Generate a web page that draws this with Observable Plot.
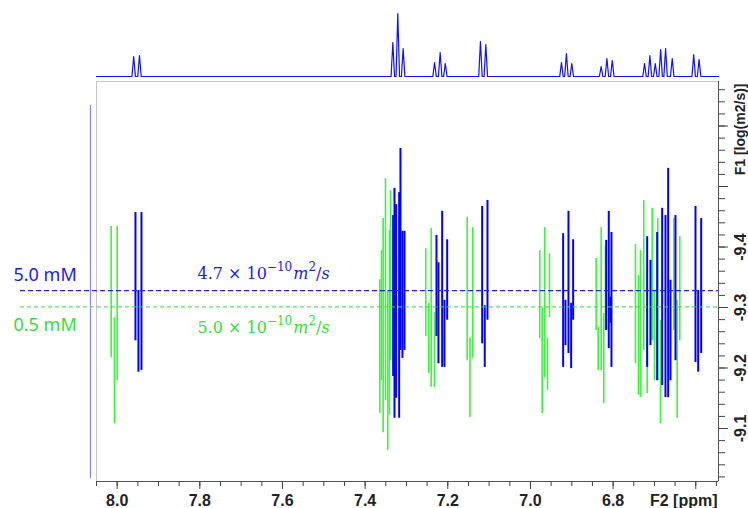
<!DOCTYPE html>
<html><head><meta charset="utf-8">
<script src="https://cdn.jsdelivr.net/npm/d3@7"></script>
<script src="https://cdn.jsdelivr.net/npm/@observablehq/plot@0.6"></script>
<style>
html,body{margin:0;padding:0;background:#fff;}
#wrap{position:relative;width:748px;height:508px;overflow:hidden;background:#fff;}
#wrap svg{position:absolute;left:0;top:0;}
</style></head><body><div id="wrap"></div>
<script>
// ---------- DATA ----------
// F2 (1H) projection peaks: chemical shift (ppm) and relative intensity
const projPpm = [7.960, 7.946, 7.333, 7.321, 7.308, 7.232, 7.2185, 7.206, 7.121, 7.108,
                 6.925, 6.913, 6.900, 6.829, 6.815, 6.802, 6.724, 6.711, 6.698, 6.685,
                 6.673, 6.657, 6.605, 6.592];
const projInt = [20, 21, 34, 63, 28, 14, 24, 13, 35, 32,
                 14, 23, 13, 10, 18, 16, 13, 21, 13, 27,
                 28, 18, 22, 17];

// DOSY contour spikes: [ppm, log D top, log D bottom]
const blueSpikes = [ // 5.0 mM
  [7.9557, -9.457, -9.245], [7.9412, -9.457, -9.196], [7.9485, -9.328, -9.193],
  [7.3322, -9.452, -9.186], [7.3290, -9.497, -9.117], [7.3250, -9.470, -9.150],
  [7.3177, -9.490, -9.117], [7.3145, -9.563, -9.229], [7.3097, -9.426, -9.216], [7.3048, -9.426, -9.229],
  [7.2274, -9.419, -9.252], [7.2226, -9.374, -9.207], [7.2136, -9.459, -9.201],
  [7.2081, -9.312, -9.201], [7.2015, -9.412, -9.279],
  [7.1168, -9.467, -9.240], [7.1106, -9.303, -9.201], [7.1040, -9.477, -9.279],
  [6.9209, -9.422, -9.201], [6.9153, -9.312, -9.237], [6.9080, -9.459, -9.224],
  [6.9015, -9.307, -9.199], [6.8967, -9.412, -9.279],
  [6.8168, -9.411, -9.262], [6.8105, -9.459, -9.232], [6.8064, -9.317, -9.274], [6.8040, -9.424, -9.201],
  [6.7176, -9.417, -9.201], [6.7096, -9.378, -9.237], [6.6934, -9.424, -9.179],
  [6.6813, -9.464, -9.171], [6.6733, -9.452, -9.151], [6.6668, -9.530, -9.151],
  [6.6612, -9.345, -9.179], [6.6491, -9.452, -9.212],
  [6.6007, -9.467, -9.209], [6.5942, -9.328, -9.193], [6.5869, -9.447, -9.224]
];
const greenSpikes = [ // 0.5 mM
  [8.0145, -9.434, -9.217], [8.0065, -9.283, -9.108], [8.0000, -9.434, -9.179],
  [7.3646, -9.346, -9.125], [7.3605, -9.394, -9.179], [7.3564, -9.447, -9.093],
  [7.3508, -9.513, -9.146], [7.3453, -9.328, -9.064], [7.3411, -9.427, -9.122], [7.3387, -9.493, -9.212],
  [7.2533, -9.397, -9.252], [7.2461, -9.307, -9.191], [7.2402, -9.431, -9.168], [7.2323, -9.292, -9.168],
  [7.1531, -9.449, -9.212], [7.1464, -9.250, -9.118], [7.1396, -9.432, -9.216],
  [6.9775, -9.394, -9.249], [6.9717, -9.300, -9.125], [6.9654, -9.432, -9.184],
  [6.9588, -9.249, -9.163], [6.9540, -9.389, -9.283],
  [6.8410, -9.381, -9.262], [6.8362, -9.267, -9.196], [6.8289, -9.432, -9.196],
  [6.8226, -9.290, -9.141], [6.8185, -9.402, -9.262],
  [6.7459, -9.404, -9.207], [6.7387, -9.353, -9.155], [6.7338, -9.394, -9.151],
  [6.7258, -9.477, -9.229], [6.7176, -9.361, -9.158], [6.7055, -9.464, -9.245],
  [6.6999, -9.328, -9.179], [6.6920, -9.447, -9.179], [6.6854, -9.279, -9.108],
  [6.6532, -9.447, -9.262], [6.6450, -9.312, -9.117], [6.6387, -9.417, -9.245]
];

// F1 projection (flat trace): ppm position and log D extent
const f1ProjPpm = [8.0646];
const f1ProjRange = [-9.634, -9.017];

// Diffusion coefficients (m^2/s) and labels
const concLabels = ["5.0 mM", "0.5 mM"];
const diffMantissa = ["4.7", "5.0"];
const diffExponent = [-10, -10];
const diffD = [4.7e-10, 5.0e-10];

// Axis ticks
const xDomain = [8.05, 6.545];
const yDomain = [-9.0124, -9.6736];
const xMajor = [8.0, 7.8, 7.6, 7.4, 7.2, 7.0, 6.8, 6.6];
const xLabelled = [8.0, 7.8, 7.6, 7.4, 7.2, 7.0, 6.8];
const yMajor = [-9.6, -9.5, -9.4, -9.3, -9.2, -9.1];
const yLabelled = [-9.4, -9.3, -9.2, -9.1];
const xTitle = "F2 [ppm]";
const yTitle = "F1 [log(m2/s)]";

// ---------- BUILD ----------
const xMinor = d3.range(0, 31).map(i => +(8.05 - i * 0.05).toFixed(2));
const yMinor = d3.range(0, 33).map(i => +(-9.66 + i * 0.02).toFixed(2));
const logD = diffD.map(d => Math.log10(d));
const BLUE = "#0000ff", GREEN = "#3cf53c";
const BLUE_T = "#1c1ce6", GREEN_T = "#36e036";
const AXF = "'Liberation Sans', Arial, sans-serif";

const wrap = document.getElementById("wrap");

const mainSvg = Plot.plot({
  width: 748, height: 508,
  marginLeft: 96, marginRight: 30, marginTop: 81, marginBottom: 27,
  x: {domain: xDomain, axis: null},
  y: {domain: yDomain, axis: null},
  style: {background: "transparent", fontFamily: AXF},
  marks: [
    Plot.frame({stroke: "#c6c6c6", strokeWidth: 1}),
    Plot.ruleX(f1ProjPpm, {y1: f1ProjRange[0], y2: f1ProjRange[1], stroke: "#7a7aff", strokeWidth: 1}),
    Plot.ruleX(greenSpikes, {x: d => d[0], y1: d => d[1], y2: d => d[2], stroke: GREEN, strokeWidth: 1.6}),
    Plot.ruleX(blueSpikes, {x: d => d[0], y1: d => d[1], y2: d => d[2], stroke: BLUE, strokeWidth: 2}),
    Plot.ruleY([logD[1]], {x1: 8.234, x2: xDomain[1], stroke: "#3ad83a", strokeWidth: 1, strokeDasharray: "4,3"}),
    Plot.ruleY([logD[0]], {x1: 8.234, x2: xDomain[1], stroke: "#2020ff", strokeWidth: 1.4, strokeDasharray: "5,3"}),
    // concentration labels
    Plot.text([concLabels[0]], {frameAnchor: "left", y: logD[0], dx: -83, dy: -10, textAnchor: "start", lineAnchor: "bottom",
      fill: BLUE_T, fontSize: 18, fontFamily: "'Noto Sans', 'Open Sans', sans-serif"}),
    Plot.text([concLabels[1]], {frameAnchor: "left", y: logD[1], dx: -83, dy: 24, textAnchor: "start", lineAnchor: "bottom",
      fill: GREEN_T, fontSize: 18, fontFamily: "'Noto Sans', 'Open Sans', sans-serif"}),
    // diffusion coefficient labels (rich-formatted afterwards)
    Plot.text([0], {frameAnchor: "left", y: logD[0], dx: 101, dy: -12, textAnchor: "start", lineAnchor: "bottom",
      text: () => `${diffMantissa[0]} × 10${diffExponent[0]} m2/s`, fill: BLUE_T, fontSize: 16,
      fontFamily: "'DejaVu Serif', serif", className: "dlab0"}),
    Plot.text([1], {frameAnchor: "left", y: logD[1], dx: 101, dy: 26, textAnchor: "start", lineAnchor: "bottom",
      text: () => `${diffMantissa[1]} × 10${diffExponent[1]} m2/s`, fill: GREEN_T, fontSize: 16,
      fontFamily: "'DejaVu Serif', serif", className: "dlab1"}),
    // axis lines
    Plot.ruleY([yDomain[0]], {stroke: "#555", strokeWidth: 1}),
    Plot.ruleX([xDomain[1]], {stroke: "#555", strokeWidth: 1}),
    // x axis
    Plot.axisX({anchor: "bottom", ticks: xMinor, tickSize: 5, tickFormat: () => "", stroke: "#444", label: null}),
    Plot.axisX({anchor: "bottom", ticks: xMajor, tickSize: 8, tickPadding: 5, label: null, stroke: "#444",
      tickFormat: d => xLabelled.some(v => Math.abs(v - d) < 1e-9) ? d.toFixed(1) : "",
      fontSize: 16, fontWeight: "bold", fill: "#222", fontFamily: AXF}),
    Plot.text([xTitle], {frameAnchor: "bottom-right", dx: -1, dy: 24, textAnchor: "end", lineAnchor: "bottom",
      fontSize: 16, fontWeight: "bold", fill: "#222", fontFamily: AXF}),
    // y axis (right)
    Plot.axisY({anchor: "right", ticks: yMinor, tickSize: 6, tickFormat: () => "", stroke: "#444", label: null}),
    Plot.axisY({anchor: "right", ticks: yMajor, tickSize: 9, tickFormat: () => "", stroke: "#444", label: null}),
    Plot.text(yLabelled, {y: d => d, text: d => d.toFixed(1), frameAnchor: "right", dx: 22, rotate: -90,
      textAnchor: "middle", lineAnchor: "middle", fontSize: 16, fontWeight: "bold", fill: "#222", fontFamily: AXF}),
    Plot.text([yTitle], {frameAnchor: "top-right", dx: 22, dy: 2, rotate: -90, textAnchor: "end", lineAnchor: "middle",
      fontSize: 14, fontWeight: "bold", fill: "#222", fontFamily: AXF})
  ]
});
wrap.appendChild(mainSvg);

// rich formatting of diffusion labels: a × 10^-10 m^2/s
[0, 1].forEach(i => {
  d3.select(mainSvg).selectAll(`g.dlab${i} text`).each(function() {
    const t = d3.select(this);
    t.text(null);
    t.append("tspan").text(`${diffMantissa[i]} × 10`);
    t.append("tspan").attr("dy", -8).attr("font-size", 12).text("−" + Math.abs(diffExponent[i]));
    t.append("tspan").attr("dy", 8).attr("dx", 1).attr("font-style", "italic").text("m");
    t.append("tspan").attr("dy", -8).attr("font-size", 12).text("2");
    t.append("tspan").attr("dy", 8).text("/");
    t.append("tspan").attr("font-style", "italic").text("s");
  });
});

// top 1D projection spectrum
const hw = 0.0042;
const order = d3.range(projPpm.length).sort((a, b) => projPpm[b] - projPpm[a]);
const projPts = [{x: xDomain[0], y: 0}];
order.forEach(i => {
  projPts.push({x: projPpm[i] + hw, y: 0}, {x: projPpm[i], y: projInt[i]}, {x: projPpm[i] - hw, y: 0});
});
projPts.push({x: xDomain[1], y: 0});

const projSvg = Plot.plot({
  width: 748, height: 81,
  marginLeft: 96, marginRight: 30, marginTop: 13, marginBottom: 5,
  x: {domain: xDomain, axis: null},
  y: {domain: [0, 63], axis: null},
  style: {background: "transparent"},
  marks: [
    Plot.line(projPts, {x: "x", y: "y", stroke: "#1010ff", strokeWidth: 1.2})
  ]
});
wrap.appendChild(projSvg);
</script>
</body></html>
